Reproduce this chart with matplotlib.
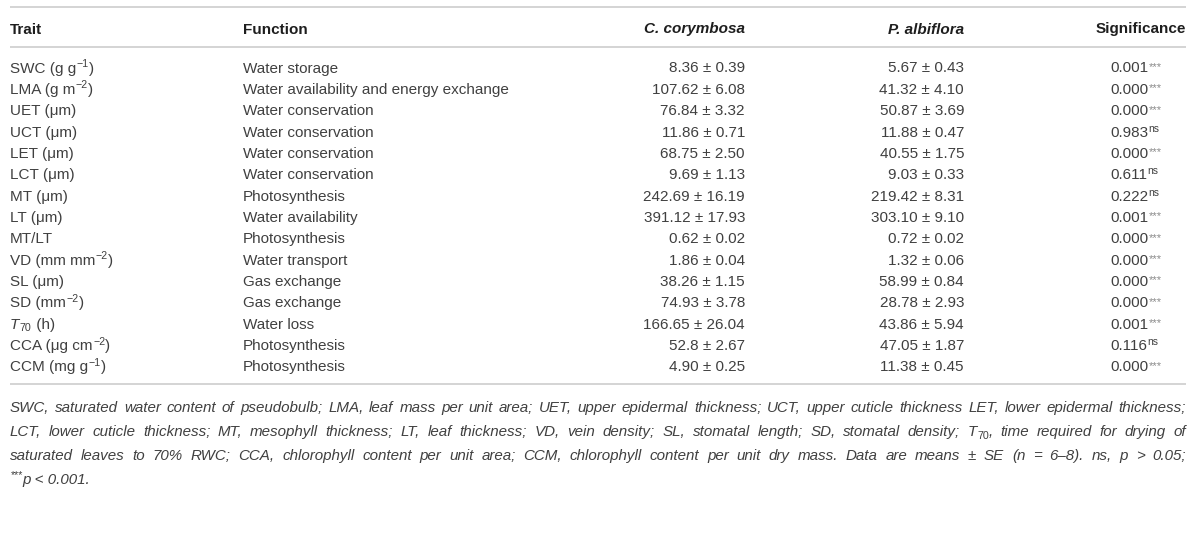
import re
import matplotlib
matplotlib.use("Agg")
import matplotlib.pyplot as plt

plt.rcParams['font.family'] = ['Liberation Sans', 'DejaVu Sans']

# Table content (^{..} superscript, _{..} subscript, *..* italic)
headers = ["Trait", "Function", "C. corymbosa", "P. albiflora", "Significance"]
traits = ["SWC (g g^{\u22121})", "LMA (g m^{\u22122})", "UET (\u03bcm)", "UCT (\u03bcm)",
          "LET (\u03bcm)", "LCT (\u03bcm)", "MT (\u03bcm)", "LT (\u03bcm)", "MT/LT",
          "VD (mm mm^{\u22122})", "SL (\u03bcm)", "SD (mm^{\u22122})", "*T*_{70} (h)",
          "CCA (\u03bcg cm^{\u22122})", "CCM (mg g^{\u22121})"]
functions = ["Water storage", "Water availability and energy exchange",
             "Water conservation", "Water conservation", "Water conservation",
             "Water conservation", "Photosynthesis", "Water availability",
             "Photosynthesis", "Water transport", "Gas exchange", "Gas exchange",
             "Water loss", "Photosynthesis", "Photosynthesis"]
cc_mean = ["8.36", "107.62", "76.84", "11.86", "68.75", "9.69", "242.69", "391.12",
           "0.62", "1.86", "38.26", "74.93", "166.65", "52.8", "4.90"]
cc_se = ["0.39", "6.08", "3.32", "0.71", "2.50", "1.13", "16.19", "17.93",
         "0.02", "0.04", "1.15", "3.78", "26.04", "2.67", "0.25"]
pa_mean = ["5.67", "41.32", "50.87", "11.88", "40.55", "9.03", "219.42", "303.10",
           "0.72", "1.32", "58.99", "28.78", "43.86", "47.05", "11.38"]
pa_se = ["0.43", "4.10", "3.69", "0.47", "1.75", "0.33", "8.31", "9.10",
         "0.02", "0.06", "0.84", "2.93", "5.94", "1.87", "0.45"]
p_values = ["0.001", "0.000", "0.000", "0.983", "0.000", "0.611", "0.222", "0.001",
            "0.000", "0.000", "0.000", "0.000", "0.001", "0.116", "0.000"]
sig = ["***", "***", "***", "ns", "***", "ns", "ns", "***",
       "***", "***", "***", "***", "***", "ns", "***"]

footnote_lines = [
    "SWC, saturated water content of pseudobulb; LMA, leaf mass per unit area; UET, upper epidermal thickness; UCT, upper cuticle thickness LET, lower epidermal thickness;",
    "LCT, lower cuticle thickness; MT, mesophyll thickness; LT, leaf thickness; VD, vein density; SL, stomatal length; SD, stomatal density; T_{70}, time required for drying of",
    "saturated leaves to 70% RWC; CCA, chlorophyll content per unit area; CCM, chlorophyll content per unit dry mass. Data are means \u00b1 SE (n = 6\u20138). ns, p > 0.05;",
]
footnote_last = "^{***}p < 0.001."

text_col = '#404040'
head_col = '#1e1e1e'
rule_col = '#d4d4d4'
fs = 11

fig = plt.figure(figsize=(12, 5.52), dpi=100)
ax = fig.add_axes([0, 0, 1, 1])
ax.set_xlim(0, 1200)
ax.set_ylim(552, 0)
ax.axis('off')
renderer = fig.canvas.get_renderer()

x_trait, x_func, x_cc, x_pa, x_sig = 10, 243, 745, 964, 1110
x_left, x_right = 10, 1186


def draw_rich(x, y, s, size, color=text_col, style='normal'):
    """Draw a string with ^{..}/_{..}/*..* markup; returns artists and total width."""
    parts = [p for p in re.split(r'(\^\{[^}]*\}|_\{[^}]*\}|\*[^*]+\*)', s) if p]
    arts, cx = [], x
    px = size * 100 / 72
    for p in parts:
        if p.startswith('^{'):
            t = ax.text(cx + 0.5, y - 0.36 * px, p[2:-1], fontsize=size * 0.7,
                        color=color, fontstyle='normal', va='baseline')
        elif p.startswith('_{'):
            t = ax.text(cx + 0.5, y + 0.18 * px, p[2:-1], fontsize=size * 0.7,
                        color=color, fontstyle='normal', va='baseline')
        elif p.startswith('*'):
            t = ax.text(cx, y, p[1:-1], fontsize=size, color=color,
                        fontstyle='italic', va='baseline')
        else:
            t = ax.text(cx, y, p, fontsize=size, color=color, fontstyle=style,
                        va='baseline')
        w = t.get_window_extent(renderer).width
        arts.append((t, t.get_position()[0] - x))
        cx += w + (0.5 if p[0] in '^_' else 0)
    return arts, cx - x


# rules
for yy in (7, 46.5, 384):
    ax.plot([x_left, x_right], [yy, yy], color=rule_col, lw=1.4, solid_capstyle='butt')

# header
hy = 33.5
ax.text(x_trait, hy, headers[0], fontsize=fs, fontweight='bold', color=head_col, va='baseline')
ax.text(x_func, hy, headers[1], fontsize=fs, fontweight='bold', color=head_col, va='baseline')
ax.text(x_cc, hy, headers[2], fontsize=fs, fontweight='bold', fontstyle='italic',
        color=head_col, va='baseline', ha='right')
ax.text(x_pa, hy, headers[3], fontsize=fs, fontweight='bold', fontstyle='italic',
        color=head_col, va='baseline', ha='right')
ax.text(x_right, hy, headers[4], fontsize=fs, fontweight='bold', color=head_col,
        va='baseline', ha='right')

# rows
y0, dy = 72.5, 21.35
for i in range(len(traits)):
    y = y0 + i * dy
    draw_rich(x_trait, y, traits[i], fs)
    ax.text(x_func, y, functions[i], fontsize=fs, color=text_col, va='baseline')
    ax.text(x_cc, y, f"{cc_mean[i]} \u00b1 {cc_se[i]}", fontsize=fs, color=text_col,
            va='baseline', ha='right')
    ax.text(x_pa, y, f"{pa_mean[i]} \u00b1 {pa_se[i]}", fontsize=fs, color=text_col,
            va='baseline', ha='right')
    t = ax.text(x_sig, y, p_values[i], fontsize=fs, color=text_col, va='baseline')
    w = t.get_window_extent(renderer).width
    if sig[i] == "ns":
        ax.text(x_sig + w + 0.5, y - 5, sig[i], fontsize=7.5, color=text_col, va='baseline')
    else:
        ax.text(x_sig + w + 0.5, y - 2.5, sig[i], fontsize=8, color='#8a8a8a', va='baseline')


def justify(line, y, x0, x1, size):
    words = line.split(' ')
    drawn = [draw_rich(0, y, wd, size, style='italic') for wd in words]
    widths = [d[1] for d in drawn]
    gap = (x1 - x0 - sum(widths)) / (len(words) - 1)
    x = x0
    for (arts, wd) in drawn:
        for t, off in arts:
            t.set_x(x + off)
        x += wd + gap


fn_size = 10.9
fy0, fdy = 412, 24
for k, line in enumerate(footnote_lines):
    justify(line, fy0 + k * fdy, x_left, x_right, fn_size)

draw_rich(x_left, fy0 + 3 * fdy, footnote_last, fn_size, style='italic')

fig.savefig("out.png", dpi=100)
